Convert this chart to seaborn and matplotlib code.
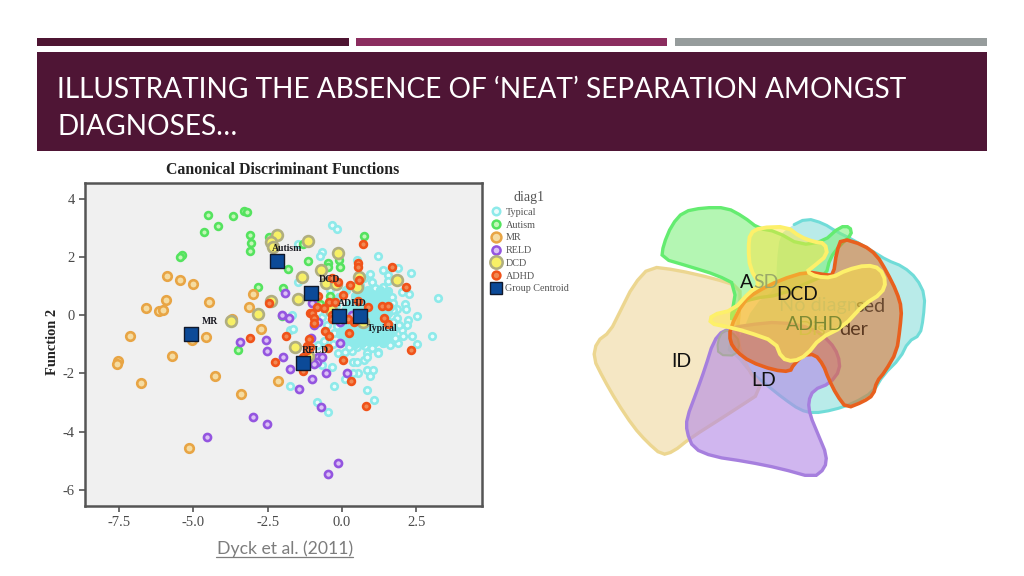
import numpy as np
import pandas as pd
import matplotlib
matplotlib.use("Agg")
import matplotlib.pyplot as plt
from matplotlib.patches import Polygon, Rectangle
from matplotlib.lines import Line2D
import seaborn as sns

sns.set_theme(style="white")
plt.rcParams['font.family'] = ['Lato', 'DejaVu Sans']

HEADER_TITLE = ["ILLUSTRATING THE ABSENCE OF ‘NEAT’ SEPARATION AMONGST", "DIAGNOSES…"]
CHART_TITLE = "Canonical Discriminant Functions"
CITATION = "Dyck et al. (2011)"
X_TICKS = [-7.5, -5.0, -2.5, 0.0, 2.5]
Y_TICKS = [-6, -4, -2, 0, 2, 4]

mr = [(-5.89,1.34),(-5.45,1.20),(-5.02,1.07),(-5.93,.52),(-4.48,.45),(-6.6,.24),(-6.16,.14),(-6.03,.17),
      (-7.14,-.72),(-4.58,-.76),(-5.05,-.86),(-3.7,-.14),(-3.13,.27),(-3.0,.72),(-2.39,.48),(-2.73,-.48),
      (-5.72,-1.41),(-7.54,-1.58),(-7.58,-1.68),(-6.77,-2.34),(-4.28,-2.1),(-3.4,-2.71),(-2.15,-2.27),(-5.15,-4.57)]
autism = [(-4.51,3.44),(-3.67,3.4),(-3.3,3.57),(-3.2,3.54),(-4.18,3.06),(-4.65,2.85),(-3.1,2.75),(-3.06,2.47),
          (-3.1,2.2),(-5.39,2.06),(-5.45,1.99),(-2.46,2.68),(-1.31,2.44),(-1.82,1.58),(-1.14,1.86),(-2.83,.96),
          (-1.99,.93),(-3.5,-1.2),(-2.02,-.03),(.74,2.71),(-.47,1.79),(-.1,1.89),(-.07,1.65),(-.47,1.65),(-.4,.65),(-.74,.38)]
reld = [(-1.92,.76),(-2.02,0),(-1.78,-.1),(-3.43,-.93),(-2.56,-.86),(-2.53,-1.24),(-1.99,-1.44),(-1.01,.41),
        (-.81,-.24),(-.94,-.34),(-.07,-.24),(.34,0),(-.07,-.96),(-1.04,-.79),(-.81,-1.44),(-.67,-1.44),
        (-1.75,-1.86),(-1.01,-2.2),(-1.45,-2.54),(-.54,-2),(.17,-2),(-.84,-1.6),(-.94,-1.68),(-.71,-3.16),
        (-3.0,-3.5),(-2.53,-3.75),(-4.55,-4.19),(-.13,-5.09),(-.47,-5.46)]
dcd = [(-2.19,2.75),(-2.39,2.51),(-2.32,2.34),(-1.14,2.54),(-1.35,1.31),(-1.48,.55),(-2.39,.48),(-2.83,.03),
       (-3.74,-.21),(-1.58,-1.1),(-.13,2.13),(-.71,1.55),(-.54,1.1),(-.2,1.07),(.5,.96),(.57,1.31),(1.85,1.2),
       (.71,-.24),(-.37,.17),(-1.15,-1.4)]
adhd = [(-2.46,.41),(-3.1,-.79),(-1.89,-.72),(-1.08,.07),(.71,2.44),(.54,1.79),(.54,1.65),(1.68,1.65),(.57,1.2),
        (2.15,.96),(.27,1.03),(-.13,1.13),(-.34,1.27),(-.81,.65),(.03,.69),(-.44,.45),(-.24,.45),(.54,.48),(.88,.27),
        (1.35,.31),(1.55,.31),(-.84,.27),(-.61,.24),(-1.01,.07),(-.34,0),(-.34,-.14),(-.94,-.1),(-.94,-.27),(.2,-.14),
        (.4,-.24),(1.41,-.1),(1.55,-.31),(-.57,-.55),(-.44,-.72),(.24,-.62),(-1.11,-.82),(-1.18,-1.07),(-1.08,-1.1),
        (-.47,-1.13),(2.32,-1.2),(.03,-1.55),(-2.26,-1.62),(-1.31,-1.92),(.3,-2.27),(.81,-3.13),(-1.31,-1.44),(-1.18,-1.2)]
typical = [(-.34,3.09),(-.17,2.96),(-.67,2.16),(-.74,2.03),(1.21,2.03),(.5,1.89),(1.38,1.55),(1.89,1.62),(2.32,1.44),
           (1.55,1.37),(1.55,1.17),(2.26,.72),(2.02,.79),(3.23,.58),(2.12,.38),(2.15,.21),(2.53,-.03),(1.85,.21),(1.85,-.1),
           (2.22,-.17),(2.19,-.34),(2.02,-.52),(3.03,-.72),(2.36,-.72),(2.05,-.72),(2.53,-1),(1.89,-.96),(1.21,-1.27),
           (.84,-1.31),(-1.48,2.44),(-1.48,1.13),(-1.68,0),(-1.75,-.52),(-1.65,-.48),(-1.75,-2.44),(-.27,-2.44),(-.84,-2.99),
           (-.47,-3.33),(-.34,-1.79),(-.67,-1.72),(.1,-2.2),(.37,-1.6),(.5,-1.6),(.74,-1.55),(.84,-1.44),(1.21,-1.3),
           (.84,-1.89),(1.04,-1.89),(.94,-2.1),(.54,-2),(.37,-2),(.84,-2.58),(1.08,-2.92),(-.13,-1.3),(.1,-1.28),(.35,-1.22),
           (.93,1.42),(1.02,1.15),(.75,1.28),(1.12,.92),(.62,1.02),(1.38,.98),(.88,.85),(1.22,.72),(1.55,.82),(.72,.72),
           (1.03,.62),(1.38,.58),(1.68,.62),(.42,.64),(.58,.52),(.83,.48),(1.12,.44),(1.42,.68),(1.73,.42),(.28,.38),(.52,.31),
           (.74,.34),(.97,.28),(1.21,.32),(1.48,.45),(1.72,.18),(.12,.22),(.33,.15),(.58,.12),(.82,.16),(1.06,.09),(1.29,.13),
           (1.56,.06),(.02,.05),(.24,-.02),(.46,-.06),(.76,-.03),(.98,-.08),(1.22,-.04),(1.47,-.12),(1.72,-.22),(-.22,-.12),
           (.08,-.18),(.29,-.32),(.52,-.24),(.88,-.22),(1.11,-.28),(1.34,-.25),(1.62,-.36),(1.93,-.34),(-.17,-.38),(.06,-.42),
           (.42,-.46),(.66,-.41),(.91,-.47),(1.19,-.44),(1.42,-.5),(1.73,-.55),(-.28,-.62),(-.06,-.66),(.16,-.78),(.48,-.63),
           (.73,-.66),(1.02,-.67),(1.27,-.71),(1.54,-.74),(1.78,-.78),(.03,-.9),(.32,-.92),(.58,-.85),(.86,-.88),(1.12,-.93),
           (1.38,-.96),(1.62,-1.02),(.22,-1.08),(.52,-1.1),(.77,-1.06),(1.0,-1.14),(-.52,-.34),(-.68,-.08),(-.58,.12),(-.21,.36),
           (-.62,-.9),(-.82,-1.02),(-.3,-1.0),(-.1,.62),(.15,.88),(-.42,.88),
           (.68,.86),(.98,.74),(1.27,.85),(.47,.44),(.68,.42),(.92,.38),(1.08,.52),(1.31,.42),(.4,.27),(.63,.22),(.88,.07),
           (1.14,.2),(1.37,.25),(1.6,.27),(.15,.1),(.38,.04),(.66,.01),(.9,.02),(1.12,-.01),(1.36,.0),(.18,-.1),(.36,-.16),
           (.62,-.14),(.8,-.12),(1.02,-.18),(1.22,-.16),(1.46,-.26),(.14,-.3),(.4,-.34),(.6,-.33),(.78,-.32),(1.0,-.37),
           (1.28,-.37),(1.5,-.42),(.2,-.55),(.36,-.58),(.56,-.53),(.8,-.56),(1.08,-.56),(1.32,-.6),(1.6,-.62),(.26,-.7),
           (.6,-.74),(.84,-.75),(1.14,-.8),(1.44,-.85),(.42,-1.0),(.68,-.97)]
centroid_names = ["Autism", "MR", "DCD", "ADHD", "Typical", "RELD"]
centroid_x = [-2.19, -5.08, -1.04, -.1, .6, -1.31]
centroid_y = [1.86, -.65, .76, -.03, -.03, -1.65]

series = [("Typical", typical, "#ebfbfb", "#8eeaea", 22),
          ("Autism", autism, "#c4f7b8", "#55e35f", 24),
          ("MR", mr, "#f5dca2", "#e8a545", 38),
          ("RELD", reld, "#dcc2f5", "#9455e0", 26),
          ("DCD", dcd, "#f7f066", "#b0ae80", 60),
          ("ADHD", adhd, "#f08a55", "#f0531a", 24)]

ld_shape = [(430,405),(400,440),(375,520),(350,590),(320,670),(320,710),(340,760),(400,785),(500,800),(600,820),(700,848),
            (735,820),(740,780),(715,720),(690,660),(685,620),(700,585),(750,565),(780,525),(775,480),(750,440),(700,400),(600,380),(500,390)]
teal_shape = [(630,95),(680,70),(730,85),(770,110),(820,135),(880,170),(920,195),(970,215),(1010,250),(1035,300),(1030,370),
              (1020,420),(985,440),(960,490),(910,540),(880,590),(820,625),(760,645),(700,655),(660,645),(610,610),(560,570),
              (510,530),(470,480),(440,460),(480,430),(520,330),(590,280),(590,200),(600,120)]
asd_shape = [(245,190),(250,150),(275,90),(310,50),(370,38),(440,38),(490,65),(535,100),(590,110),(660,150),(730,140),(780,95),
             (810,95),(815,120),(780,150),(750,190),(738,240),(690,260),(600,300),(520,310),(470,330),(450,390),(470,270),(410,240),(330,215)]
id_shape = [(210,215),(290,225),(400,250),(480,275),(480,330),(470,430),(500,520),(555,585),(440,660),(330,730),(280,770),(245,780),
            (200,740),(160,695),(110,620),(70,550),(40,490),(50,440),(90,410),(120,350),(160,270)]
adhd_shape = [(785,130),(850,150),(890,180),(920,230),(950,290),(965,340),(960,400),(950,470),(915,530),(890,560),(880,600),(850,620),
              (800,640),(770,600),(745,550),(730,510),(705,478),(670,480),(640,510),(630,530),(580,525),(510,500),(470,470),(450,440),
              (450,400),(490,320),(530,290),(600,255),(680,230),(740,240),(760,240),(770,170)]
dcd_shape = [(510,115),(540,98),(620,95),(660,125),(700,140),(735,145),(742,180),(700,215),(680,230),(710,245),(755,248),(800,225),
             (860,210),(900,220),(918,260),(905,295),(850,330),(790,395),(720,430),(680,480),(640,500),(605,490),(585,440),(500,410),
             (440,395),(390,385),(395,360),(460,345),(510,290),(540,270),(510,220),(505,160)]
grey_shape = [(430,405),(412,440),(415,480),(470,482),(480,440),(455,410)]


def smooth(points, rounds=1):
    p = np.array(points, float)
    for _ in range(rounds):
        q = np.roll(p, -1, axis=0)
        p = np.column_stack([.75*p + .25*q, .25*p + .75*q]).reshape(-1, 2)
    return p


fig = plt.figure(figsize=(10.24, 5.76), dpi=100, facecolor="white")
W, H = 1024, 576


def px_axes(l, t, r, b):
    return fig.add_axes([l/W, 1-b/H, (r-l)/W, (b-t)/H])


# slide furniture
bg = px_axes(0, 0, W, H)
bg.set_xlim(0, W); bg.set_ylim(H, 0); bg.axis("off")
for x0, x1, col in [(37, 349, "#4e1532"), (356, 667, "#8b2d5f"), (675, 987, "#969c9c")]:
    bg.add_patch(Rectangle((x0, 38), x1-x0, 8, color=col, lw=0))
bg.add_patch(Rectangle((37, 52), 950, 99, color="#4f1535", lw=0))
bg.text(57, 90, HEADER_TITLE[0], color="white", fontsize=20.2, va="center", ha="left")
bg.text(57, 127, HEADER_TITLE[1], color="white", fontsize=20.2, va="center", ha="left")
bg.text(285, 549, CITATION, color="#7d7d7d", fontsize=12.7, ha="center", va="center")
bg.add_line(Line2D([216, 353], [557, 557], color="#7d7d7d", lw=.9))
serif = ["Liberation Serif", "DejaVu Serif"]
bg.text(283, 170, CHART_TITLE, family=serif, fontweight="bold", fontsize=11.4, color="#222222", ha="center", va="center")
bg.text(53, 342, "Function 2", family=serif, fontweight="bold", fontsize=10.4, color="#222222",
        rotation=90, ha="center", va="center")

# scatter panel
ax = px_axes(85, 183, 482, 506)
ax.set_facecolor("#f0f0f0")
handles, labels = [], []
for i, (name, pts, face, edge, size) in enumerate(series):
    df = pd.DataFrame(pts, columns=["f1", "f2"])
    sns.scatterplot(data=df, x="f1", y="f2", ax=ax, s=size, color=face, edgecolor=edge, linewidth=1.9,
                    zorder=3+i, legend=False)
    if name == "Typical":
        core = df[df.f1.between(-.1, 1.65) & df.f2.between(-1.0, .9)]
        sns.scatterplot(data=core, x="f1", y="f2", ax=ax, s=size, color=edge, edgecolor=edge, linewidth=1.9,
                        zorder=3.5, legend=False)
    handles.append(Line2D([], [], ls="", marker="o", ms=np.sqrt(size)*1.15, mfc=face, mec=edge, mew=1.8))
    labels.append(name)
cent = pd.DataFrame({"f1": centroid_x, "f2": centroid_y, "name": centroid_names})
sns.scatterplot(data=cent, x="f1", y="f2", ax=ax, marker="s", s=100, color="#0c4a98", edgecolor="#10182a",
                linewidth=1, zorder=10, legend=False)
handles.append(Line2D([], [], ls="", marker="s", ms=9, mfc="#0c4a98", mec="#10182a", mew=1))
labels.append("Group Centroid")
label_offsets = {"Autism": (.35, .43), "MR": (.62, .42), "DCD": (.62, .48), "ADHD": (.43, .42),
                 "Typical": (.76, -.42), "RELD": (.42, .45)}
for name, x, y in zip(centroid_names, centroid_x, centroid_y):
    dx, dy = label_offsets[name]
    ax.text(x+dx, y+dy, name, family=serif, fontweight="bold", fontsize=7, color="#1a1a22",
            ha="center", va="center", zorder=11)
ax.set_xlim(-8.65, 4.71)
ax.set_ylim(-6.56, 4.54)
ax.set_xticks(X_TICKS)
ax.set_xticklabels([f"{v:.1f}" for v in X_TICKS], family=serif, fontsize=10.5, color="#4a4a4a")
ax.set_yticks(Y_TICKS)
ax.set_yticklabels([str(v) for v in Y_TICKS], family=serif, fontsize=10.5, color="#4a4a4a")
ax.set_xlabel(""); ax.set_ylabel("")
ax.tick_params(length=4.3, width=1.2, color="#555555", left=True, bottom=True, pad=3)
for s in ax.spines.values():
    s.set_color("#555555"); s.set_linewidth(1.8); s.set_visible(True)
leg = ax.legend(handles, labels, loc="upper left", bbox_to_anchor=(1.017, .975), frameon=False, title="diag1",
                prop={"family": serif, "size": 7.3}, labelspacing=.36, handletextpad=.25, borderpad=0, borderaxespad=0,
                handlelength=1.4, labelcolor="#555555")
leg.get_title().set_fontfamily(serif)
leg.get_title().set_fontsize(10)
leg.get_title().set_color("#555555")

# Venn-like diagram
dg = px_axes(580, 195, 940, 490)
dg.set_xlim(0, 1080); dg.set_ylim(885, 0); dg.axis("off")
teal_smooth = smooth(teal_shape)
dg.add_patch(Polygon(teal_smooth, closed=True, facecolor=matplotlib.colors.to_rgba("#8fe0dc", .62), edgecolor="none", zorder=1))
dg.plot(teal_smooth[:50, 0], teal_smooth[:50, 1], color="#70dcd8", lw=2.2, zorder=1.5)
for shape, face, alpha, edge, lw, z in [
    (id_shape, "#f2dfae", .72, "#ecd690", 2.4, 1.7),
    (asd_shape, "#7ff07c", .58, "#64ec70", 2.4, 2),
    (ld_shape, "#b48ae6", .62, "#a67fde", 2.4, 3),
    (grey_shape, "#a8a8a0", .5, "#a8a8a0", 1.5, 5),
    (adhd_shape, "#e0702a", .55, "#e8601e", 2.6, 6),
    (dcd_shape, "#ffe640", .5, "#fdf06a", 2.8, 8),
]:
    dg.add_patch(Polygon(smooth(shape), closed=True, facecolor=matplotlib.colors.to_rgba(face, alpha),
                         edgecolor=edge, lw=lw, zorder=z))
kw = dict(fontsize=14.3, va="center", ha="left", zorder=7)
dg.text(598, 333, "No diagno", color="#a89c80", **kw)
dg.text(827, 333, "sed", color="#6b4a30", **kw)
dg.text(652, 403, "Dis", color="#b09a50", **kw)
dg.text(778, 403, "der", color="#5c3a22", **kw)
dg.text(480, 263, "A", color="#111111", fontsize=14, va="center", ha="left", zorder=9)
dg.text(521, 263, "SD", color="#9aa86a", fontsize=14, va="center", ha="left", zorder=9)
dg.text(650, 300, "DCD", color="#111111", fontsize=13.8, va="center", ha="center", zorder=9)
dg.text(703, 390, "ADHD", color="#7e8a34", fontsize=14, va="center", ha="center", zorder=9)
dg.text(305, 500, "ID", color="#111111", fontsize=14, va="center", ha="center", zorder=9)
dg.text(550, 558, "LD", color="#111111", fontsize=14, va="center", ha="center", zorder=9)

fig.savefig("out.png", dpi=100)
